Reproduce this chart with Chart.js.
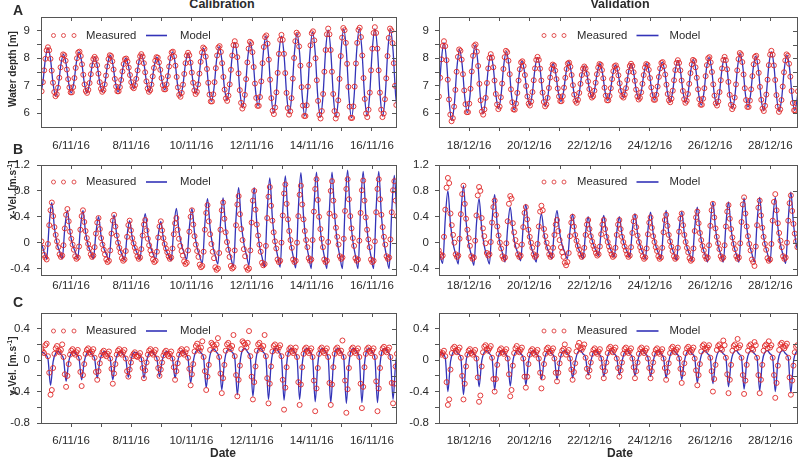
<!DOCTYPE html>
<html>
<head>
<meta charset="utf-8">
<script src="https://cdn.jsdelivr.net/npm/chart.js@4.4.1/dist/chart.umd.min.js"></script>
<style>
  body { margin: 0; width: 803px; height: 464px; background: #fff; position: relative; overflow: hidden;
         font-family: "Liberation Sans", Arial, sans-serif; color: #2b2b2b; }
  canvas { position: absolute; }
  .txt { position: absolute; white-space: nowrap; line-height: 1; }
  .b { font-weight: bold; }
  sup { font-size: 0.7em; line-height: 0; }
</style>
</head>
<body>
<script>
// time axis in hours from 5/11/16 00:00 (calibration) and 17/12/16 00:00 (validation)
const DEPTH_STEP_H = 1.007;   // water depth logger, ~hourly
const VEL_STEP_H = 1.035;     // current meter, ~hourly
const MODEL_STEP_H = 2.07;    // model output

const dayTickHours = [24, 48, 72, 96, 120, 144, 168, 192, 216, 240, 264];
const dateTickHours = [24, 72, 120, 168, 216, 264];
const calDateLabels = ['6/11/16', '8/11/16', '10/11/16', '12/11/16', '14/11/16', '16/11/16'];
const valDateLabels = ['18/12/16', '20/12/16', '22/12/16', '24/12/16', '26/12/16', '28/12/16'];

const depthTicks = [6, 6.5, 7, 7.5, 8, 8.5, 9];
const depthLabels = [6, 7, 8, 9];
const xVelTicks = [-0.4, -0.2, 0, 0.2, 0.4, 0.6, 0.8, 1, 1.2];
const xVelLabels = [-0.4, 0, 0.4, 0.8, 1.2];
const yVelTicks = [-0.8, -0.6, -0.4, -0.2, 0, 0.2, 0.4];
const yVelLabels = [-0.8, -0.4, 0, 0.4];

// water depth [m], calibration
const calDepthMeasured = [
  6.80, 7.13, 7.56, 7.98, 8.29,
  8.40, 8.29, 7.98, 7.55, 7.11, 6.77, 6.62, 6.69, 6.93, 7.29, 7.67, 7.98, 8.14,
  8.11, 7.91, 7.59, 7.24, 6.94, 6.76, 6.76, 6.95, 7.28, 7.65, 8.00, 8.21,
  8.24, 8.08, 7.78, 7.40, 7.05, 6.81, 6.74, 6.85, 7.10, 7.42, 7.74, 7.97,
  8.05, 7.97, 7.75, 7.44, 7.13, 6.89, 6.78, 6.84, 7.05, 7.37, 7.70, 7.97, 8.11,
  8.08, 7.89, 7.59, 7.25, 6.97, 6.80, 6.80, 6.95, 7.21, 7.52, 7.79, 7.97,
  7.99, 7.88, 7.66, 7.39, 7.13, 6.96, 6.91, 7.02, 7.25, 7.56, 7.86, 8.07,
  8.15, 8.06, 7.82, 7.49, 7.16, 6.90, 6.78, 6.84, 7.04, 7.34, 7.65, 7.91, 8.04,
  8.02, 7.85, 7.58, 7.28, 7.02, 6.87, 6.87, 7.05, 7.35, 7.70, 8.01, 8.21,
  8.24, 8.07, 7.73, 7.32, 6.94, 6.67, 6.60, 6.74, 7.04, 7.43, 7.82, 8.10,
  8.20, 8.11, 7.84, 7.48, 7.11, 6.83, 6.70, 6.78, 7.05, 7.44, 7.87, 8.21, 8.39,
  8.34, 8.06, 7.61, 7.11, 6.68, 6.43, 6.43, 6.69, 7.13, 7.64, 8.10, 8.39,
  8.44, 8.23, 7.82, 7.32, 6.86, 6.54, 6.45, 6.64, 7.05, 7.58, 8.10, 8.48,
  8.62, 8.47, 8.04, 7.45, 6.84, 6.38, 6.17, 6.28, 6.67, 7.24, 7.85, 8.35, 8.60,
  8.55, 8.22, 7.68, 7.08, 6.56, 6.27, 6.27, 6.59, 7.16, 7.82, 8.41, 8.77,
  8.83, 8.53, 7.95, 7.22, 6.55, 6.09, 5.97, 6.21, 6.76, 7.47, 8.16, 8.67,
  8.85, 8.67, 8.16, 7.46, 6.74, 6.19, 5.95, 6.07, 6.55, 7.26, 8.01, 8.62, 8.93,
  8.86, 8.43, 7.73, 6.95, 6.28, 5.90, 5.90, 6.29, 6.97, 7.76, 8.47, 8.91,
  8.98, 8.65, 8.00, 7.20, 6.45, 5.94, 5.81, 6.08, 6.70, 7.51, 8.30, 8.87,
  9.08, 8.87, 8.30, 7.51, 6.70, 6.08, 5.81, 5.95, 6.47, 7.25, 8.08, 8.75, 9.10,
  9.02, 8.56, 7.80, 6.96, 6.24, 5.83, 5.83, 6.25, 6.97, 7.81, 8.56, 9.03,
  9.11, 8.77, 8.10, 7.28, 6.52, 5.99, 5.86, 6.13, 6.75, 7.56, 8.35, 8.92,
  9.13, 8.92, 8.35, 7.56, 6.75, 6.13, 5.86, 5.99, 6.51, 7.27, 8.08, 8.74, 9.08,
  9.01, 8.55, 7.82, 7.00, 6.30
];
const calDepthModel = [
  6.65, 7.09, 7.96,
  8.38, 7.96, 7.07, 6.62, 7.00, 7.77,
  8.14, 7.80, 7.09, 6.74, 7.12, 7.87,
  8.23, 7.87, 7.12, 6.74, 7.07, 7.72,
  8.04, 7.73, 7.10, 6.78, 7.12, 7.79,
  8.10, 7.79, 7.12, 6.78, 7.09, 7.70,
  8.00, 7.73, 7.18, 6.91, 7.22, 7.84,
  8.14, 7.81, 7.12, 6.78, 7.10, 7.73,
  8.04, 7.75, 7.15, 6.85, 7.20, 7.90,
  8.23, 7.84, 7.01, 6.62, 7.00, 7.80,
  8.19, 7.83, 7.08, 6.72, 7.13, 7.98,
  8.37, 7.90, 6.90, 6.43, 6.91, 7.94,
  8.42, 7.95, 6.95, 6.48, 6.99, 8.08,
  8.58, 8.01, 6.78, 6.21, 6.78, 8.01,
  8.58, 8.02, 6.83, 6.27, 6.89, 8.20,
  8.80, 8.13, 6.68, 6.01, 6.68, 8.13,
  8.80, 8.12, 6.67, 5.99, 6.69, 8.20,
  8.90, 8.18, 6.63, 5.90, 6.64, 8.21,
  8.95, 8.20, 6.60, 5.86, 6.62, 8.26,
  9.02, 8.26, 6.62, 5.86, 6.63, 8.29,
  9.06, 8.29, 6.62, 5.84, 6.62, 8.29,
  9.07, 8.31, 6.67, 5.90, 6.67, 8.31,
  9.07, 8.31, 6.67, 5.90, 6.66, 8.29,
  9.04, 8.29, 6.66, 5.90
];

// water depth [m], validation
const valDepthMeasured = [
  6.61, 7.29, 7.96, 8.45,
  8.62, 8.44, 7.93, 7.22, 6.50, 5.95, 5.71, 5.82, 6.24, 6.85, 7.51, 8.05, 8.32,
  8.27, 7.95, 7.42, 6.83, 6.33, 6.04, 6.04, 6.35, 6.89, 7.52, 8.09, 8.45,
  8.50, 8.24, 7.72, 7.07, 6.47, 6.06, 5.95, 6.14, 6.56, 7.10, 7.63, 8.01,
  8.15, 8.02, 7.67, 7.19, 6.70, 6.32, 6.15, 6.24, 6.58, 7.08, 7.61, 8.04, 8.27,
  8.22, 7.91, 7.42, 6.87, 6.40, 6.14, 6.13, 6.35, 6.74, 7.19, 7.60, 7.85,
  7.89, 7.72, 7.39, 6.99, 6.61, 6.35, 6.28, 6.43, 6.77, 7.20, 7.63, 7.94,
  8.05, 7.94, 7.62, 7.19, 6.75, 6.41, 6.25, 6.32, 6.56, 6.92, 7.30, 7.61, 7.77,
  7.74, 7.55, 7.24, 6.90, 6.61, 6.44, 6.44, 6.62, 6.93, 7.29, 7.61, 7.81,
  7.84, 7.69, 7.39, 7.02, 6.68, 6.45, 6.38, 6.49, 6.74, 7.07, 7.39, 7.62,
  7.70, 7.63, 7.43, 7.16, 6.88, 6.67, 6.57, 6.62, 6.82, 7.11, 7.42, 7.66, 7.79,
  7.76, 7.57, 7.27, 6.93, 6.64, 6.47, 6.47, 6.63, 6.91, 7.24, 7.53, 7.71,
  7.74, 7.62, 7.38, 7.09, 6.81, 6.62, 6.57, 6.68, 6.91, 7.21, 7.51, 7.72,
  7.80, 7.72, 7.49, 7.18, 6.86, 6.61, 6.50, 6.56, 6.76, 7.07, 7.39, 7.66, 7.79,
  7.76, 7.58, 7.28, 6.94, 6.66, 6.49, 6.49, 6.67, 6.97, 7.32, 7.63, 7.83,
  7.86, 7.71, 7.41, 7.04, 6.70, 6.47, 6.40, 6.53, 6.82, 7.20, 7.57, 7.83,
  7.93, 7.83, 7.56, 7.19, 6.81, 6.51, 6.38, 6.45, 6.70, 7.07, 7.46, 7.78, 7.94,
  7.90, 7.67, 7.29, 6.87, 6.51, 6.31, 6.31, 6.53, 6.91, 7.35, 7.75, 8.00,
  8.04, 7.85, 7.50, 7.05, 6.64, 6.36, 6.28, 6.43, 6.77, 7.20, 7.63, 7.94,
  8.05, 7.93, 7.60, 7.14, 6.67, 6.31, 6.15, 6.24, 6.57, 7.05, 7.56, 7.97, 8.19,
  8.14, 7.86, 7.41, 6.91, 6.48, 6.23, 6.23, 6.46, 6.87, 7.35, 7.78, 8.05,
  8.09, 7.88, 7.47, 6.96, 6.49, 6.17, 6.08, 6.27, 6.68, 7.22, 7.75, 8.13,
  8.27, 8.13, 7.74, 7.21, 6.66, 6.24, 6.05, 6.14, 6.48, 6.97, 7.49, 7.92, 8.14,
  8.09, 7.80, 7.33, 6.81, 6.37, 6.11, 6.11, 6.36, 6.80
];
const valDepthModel = [
  6.54, 7.93,
  8.57, 7.89, 6.43, 5.74, 6.36, 7.68,
  8.31, 7.76, 6.59, 6.02, 6.63, 7.89,
  8.48, 7.88, 6.59, 5.98, 6.50, 7.60,
  8.13, 7.65, 6.65, 6.17, 6.68, 7.75,
  8.25, 7.74, 6.65, 6.12, 6.55, 7.45,
  7.90, 7.50, 6.69, 6.30, 6.72, 7.61,
  8.03, 7.60, 6.70, 6.27, 6.63, 7.40,
  7.80, 7.44, 6.76, 6.43, 6.78, 7.49,
  7.88, 7.48, 6.75, 6.40, 6.71, 7.37,
  7.72, 7.42, 6.85, 6.58, 6.88, 7.49,
  7.80, 7.46, 6.79, 6.47, 6.78, 7.43,
  7.75, 7.46, 6.87, 6.58, 6.88, 7.49,
  7.80, 7.48, 6.83, 6.51, 6.83, 7.48,
  7.80, 7.47, 6.80, 6.48, 6.82, 7.52,
  7.86, 7.50, 6.77, 6.42, 6.78, 7.55,
  7.92, 7.54, 6.77, 6.40, 6.77, 7.56,
  7.95, 7.53, 6.70, 6.30, 6.72, 7.61,
  8.03, 7.61, 6.72, 6.30, 6.72, 7.61,
  8.03, 7.58, 6.63, 6.17, 6.66, 7.69,
  8.17, 7.70, 6.70, 6.22, 6.68, 7.63,
  8.08, 7.60, 6.58, 6.10, 6.63, 7.72,
  8.24, 7.72, 6.60, 6.07, 6.58, 7.63,
  8.12, 7.63, 6.60, 6.10, 6.59, 7.60
];

// x-velocity [m/s], calibration
const calXVelMeasured = [
  0.02, -0.08, -0.19, -0.23, -0.26, -0.02, 0.27, 0.50,
  0.62, 0.41, 0.24, 0.12, 0.02, -0.07, -0.18, -0.22, -0.20, -0.04, 0.22, 0.43,
  0.52, 0.33, 0.17, 0.06, -0.03, -0.11, -0.21, -0.25, -0.23, -0.06, 0.20, 0.41,
  0.50, 0.32, 0.18, 0.07, -0.02, -0.09, -0.18, -0.22, -0.20, -0.07, 0.14, 0.31,
  0.38, 0.21, 0.07, -0.03, -0.11, -0.18, -0.26, -0.30, -0.28, -0.12, 0.14, 0.34,
  0.43, 0.25, 0.11, 0.00, -0.08, -0.15, -0.24, -0.28, -0.26, -0.13, 0.09, 0.27,
  0.34, 0.19, 0.07, -0.01, -0.08, -0.14, -0.21, -0.25, -0.23, -0.10, 0.11, 0.28,
  0.35, 0.19, 0.06, -0.04, -0.12, -0.18, -0.26, -0.30, -0.28, -0.14, 0.08, 0.25,
  0.33, 0.19, 0.07, -0.02, -0.09, -0.15, -0.21, -0.25, -0.23, -0.09, 0.13, 0.30,
  0.38, 0.20, 0.06, -0.05, -0.13, -0.20, -0.29, -0.33, -0.31, -0.12, 0.17, 0.40,
  0.50, 0.28, 0.10, -0.03, -0.13, -0.22, -0.34, -0.38, -0.36, -0.14, 0.20, 0.46,
  0.58, 0.33, 0.13, -0.02, -0.14, -0.24, -0.38, -0.42, -0.40, -0.16, 0.20, 0.50,
  0.62, 0.37, 0.16, 0.01, -0.11, -0.22, -0.36, -0.40, -0.38, -0.12, 0.27, 0.59,
  0.72, 0.44, 0.21, 0.04, -0.10, -0.21, -0.38, -0.42, -0.40, -0.12, 0.31, 0.65,
  0.80, 0.51, 0.28, 0.11, -0.03, -0.14, -0.31, -0.35, -0.33, -0.05, 0.38, 0.71,
  0.86, 0.57, 0.34, 0.16, 0.02, -0.09, -0.26, -0.30, -0.28, 0.00, 0.42, 0.76,
  0.90, 0.60, 0.36, 0.18, 0.04, -0.08, -0.26, -0.30, -0.28, 0.00, 0.41, 0.74,
  0.88, 0.59, 0.36, 0.18, 0.04, -0.07, -0.24, -0.28, -0.26, 0.04, 0.48, 0.83,
  0.98, 0.66, 0.40, 0.21, 0.06, -0.07, -0.26, -0.30, -0.28, 0.01, 0.45, 0.80,
  0.95, 0.65, 0.41, 0.23, 0.09, -0.03, -0.21, -0.25, -0.23, 0.06, 0.49, 0.83,
  0.98, 0.67, 0.41, 0.22, 0.07, -0.05, -0.24, -0.28, -0.26, 0.03, 0.46, 0.81,
  0.96, 0.65, 0.39, 0.20, 0.05, -0.07, -0.26, -0.30, -0.28, 0.02, 0.47, 0.83,
  0.98, 0.67, 0.43, 0.24, 0.09, -0.03, -0.21, -0.25, -0.23, 0.05, 0.47, 0.81,
  0.95, 0.65, 0.41
];
const calXVelModel = [
  -0.01, -0.14, -0.25, 0.29,
  0.62, 0.23, -0.01, -0.14, -0.25, 0.22,
  0.50, 0.17, -0.03, -0.14, -0.24, 0.22,
  0.50, 0.16, -0.04, -0.15, -0.25, 0.15,
  0.40, 0.10, -0.08, -0.18, -0.27, 0.16,
  0.43, 0.12, -0.07, -0.18, -0.27, 0.11,
  0.34, 0.07, -0.08, -0.17, -0.25, 0.18,
  0.45, 0.13, -0.06, -0.17, -0.26, 0.11,
  0.33, 0.06, -0.11, -0.20, -0.28, 0.22,
  0.53, 0.17, -0.04, -0.16, -0.26, 0.23,
  0.53, 0.15, -0.08, -0.21, -0.32, 0.30,
  0.68, 0.23, -0.05, -0.20, -0.33, 0.30,
  0.69, 0.21, -0.07, -0.23, -0.37, 0.39,
  0.85, 0.31, -0.01, -0.19, -0.35, 0.39,
  0.85, 0.30, -0.04, -0.22, -0.38, 0.48,
  1.00, 0.38, 0.01, -0.20, -0.38, 0.49,
  1.03, 0.39, 0.01, -0.21, -0.39, 0.52,
  1.08, 0.41, 0.01, -0.21, -0.40, 0.52,
  1.09, 0.42, 0.02, -0.21, -0.40, 0.52,
  1.09, 0.42, 0.02, -0.21, -0.40, 0.54,
  1.12, 0.44, 0.03, -0.20, -0.40, 0.53,
  1.10, 0.43, 0.02, -0.21, -0.40, 0.53,
  1.10, 0.43, 0.02, -0.21, -0.40, 0.49,
  1.04, 0.39, 0.00
];

// x-velocity [m/s], validation
const valXVelMeasured = [
  -0.12, -0.18, -0.22, -0.20, 0.09, 0.51, 0.85,
  1.00, 0.92, 0.45, 0.27, 0.12, 0.00, -0.18, -0.22, -0.20, 0.06, 0.44, 0.75,
  0.88, 0.60, 0.37, 0.20, 0.07, -0.05, -0.21, -0.25, -0.23, 0.03, 0.42, 0.73,
  0.86, 0.80, 0.38, 0.22, 0.10, -0.01, -0.16, -0.20, -0.18, 0.01, 0.31, 0.55,
  0.65, 0.43, 0.25, 0.11, 0.00, -0.09, -0.21, -0.25, -0.23, -0.01, 0.33, 0.60,
  0.72, 0.68, 0.30, 0.16, 0.04, -0.05, -0.18, -0.22, -0.20, -0.03, 0.24, 0.46,
  0.55, 0.36, 0.20, 0.09, 0.00, -0.08, -0.18, -0.22, -0.20, -0.02, 0.25, 0.48,
  0.57, 0.50, 0.21, 0.10, 0.00, -0.08, -0.18, -0.22, -0.20, -0.08, 0.12, 0.28,
  0.35, 0.18, 0.04, -0.07, -0.15, -0.22, -0.31, -0.35, -0.30, -0.16, 0.10, 0.31,
  0.40, 0.25, 0.12, 0.03, -0.05, -0.11, -0.18, -0.22, -0.20, -0.08, 0.12, 0.28,
  0.35, 0.21, 0.10, 0.02, -0.05, -0.10, -0.16, -0.20, -0.18, -0.06, 0.13, 0.28,
  0.35, 0.21, 0.09, 0.01, -0.06, -0.12, -0.18, -0.22, -0.20, -0.08, 0.12, 0.28,
  0.35, 0.21, 0.09, 0.01, -0.06, -0.12, -0.18, -0.22, -0.20, -0.07, 0.15, 0.33,
  0.40, 0.24, 0.11, 0.01, -0.07, -0.13, -0.21, -0.25, -0.23, -0.09, 0.13, 0.31,
  0.39, 0.23, 0.10, 0.01, -0.07, -0.13, -0.21, -0.25, -0.23, -0.08, 0.16, 0.35,
  0.43, 0.26, 0.12, 0.02, -0.06, -0.13, -0.21, -0.25, -0.23, -0.08, 0.17, 0.37,
  0.45, 0.27, 0.12, 0.01, -0.08, -0.15, -0.24, -0.28, -0.26, -0.09, 0.18, 0.39,
  0.48, 0.30, 0.15, 0.04, -0.05, -0.12, -0.21, -0.25, -0.23, -0.04, 0.26, 0.50,
  0.60, 0.39, 0.22, 0.09, -0.01, -0.10, -0.21, -0.25, -0.23, -0.04, 0.25, 0.48,
  0.58, 0.37, 0.21, 0.08, -0.02, -0.10, -0.21, -0.25, -0.23, -0.01, 0.32, 0.59,
  0.70, 0.45, 0.25, 0.10, -0.02, -0.12, -0.26, -0.30, -0.36, -0.06, 0.27, 0.54,
  0.65, 0.42, 0.23, 0.09, -0.02, -0.11, -0.24, -0.28, -0.26, -0.02, 0.34, 0.63,
  0.75, 0.50, 0.30, 0.15, 0.03, -0.07, -0.21, -0.25, -0.23, 0.00, 0.34, 0.61,
  0.73, 0.49, 0.29, 0.14, 0.02, -0.07
];
const valXVelModel = [
  -0.06, -0.20, -0.32, 0.37,
  0.80, 0.29, -0.01, -0.18, -0.33, 0.42,
  0.88, 0.33, -0.01, -0.19, -0.35, 0.29,
  0.68, 0.23, -0.05, -0.20, -0.33, 0.33,
  0.74, 0.27, -0.01, -0.16, -0.30, 0.23,
  0.55, 0.18, -0.05, -0.17, -0.28, 0.26,
  0.59, 0.19, -0.05, -0.18, -0.30, 0.17,
  0.45, 0.14, -0.05, -0.16, -0.25, 0.22,
  0.50, 0.16, -0.04, -0.15, -0.25, 0.18,
  0.44, 0.13, -0.06, -0.16, -0.25, 0.15,
  0.40, 0.13, -0.03, -0.12, -0.20, 0.18,
  0.42, 0.13, -0.04, -0.14, -0.22, 0.16,
  0.40, 0.12, -0.05, -0.14, -0.22, 0.20,
  0.45, 0.14, -0.05, -0.16, -0.25, 0.20,
  0.47, 0.15, -0.05, -0.16, -0.25, 0.22,
  0.50, 0.15, -0.05, -0.17, -0.27, 0.20,
  0.48, 0.14, -0.07, -0.18, -0.28, 0.23,
  0.55, 0.17, -0.06, -0.19, -0.30, 0.28,
  0.63, 0.21, -0.04, -0.18, -0.30, 0.28,
  0.63, 0.21, -0.04, -0.18, -0.30, 0.31,
  0.69, 0.24, -0.02, -0.17, -0.30, 0.32,
  0.70, 0.25, -0.02, -0.17, -0.30, 0.32,
  0.70, 0.24, -0.03, -0.19, -0.32, 0.36,
  0.78, 0.29, -0.01, -0.18
];

// y-velocity [m/s], calibration
const calYVelMeasured = [
  0.14, 0.11, 0.09, 0.19, 0.21, 0.05, -0.16,
  -0.44, -0.38, -0.10, 0.08, 0.15, 0.18, 0.12, 0.10, 0.13, 0.20, 0.04, -0.18,
  -0.34, -0.20, -0.05, 0.07, 0.12, 0.14, 0.09, 0.07, 0.10, 0.13, 0.03, -0.15,
  -0.33, -0.19, -0.05, 0.08, 0.13, 0.15, 0.10, 0.08, 0.11, 0.14, 0.03, -0.15,
  -0.25, -0.14, -0.04, 0.06, 0.10, 0.12, 0.07, 0.05, 0.08, 0.11, 0.02, -0.11,
  -0.30, -0.17, -0.05, 0.07, 0.12, 0.14, 0.09, 0.07, 0.10, 0.13, 0.02, -0.14,
  -0.21, -0.12, -0.03, 0.05, 0.08, 0.10, 0.05, 0.04, 0.06, 0.09, 0.01, -0.10,
  -0.23, -0.13, -0.03, 0.07, 0.12, 0.14, 0.09, 0.07, 0.10, 0.13, 0.02, -0.10,
  -0.20, -0.12, -0.03, 0.06, 0.10, 0.12, 0.07, 0.05, 0.08, 0.11, 0.02, -0.09,
  -0.25, -0.14, -0.04, 0.07, 0.12, 0.14, 0.09, 0.07, 0.10, 0.14, 0.03, -0.11,
  -0.32, -0.18, -0.05, 0.11, 0.18, 0.21, 0.15, 0.12, 0.16, 0.24, 0.04, -0.14,
  -0.38, -0.21, -0.06, 0.13, 0.22, 0.20, 0.18, 0.14, 0.20, 0.28, 0.04, -0.17,
  -0.42, -0.23, -0.06, 0.12, 0.20, 0.22, 0.16, 0.14, 0.18, 0.32, 0.05, -0.19,
  -0.46, -0.25, -0.07, 0.14, 0.24, 0.22, 0.20, 0.16, 0.22, 0.37, 0.05, -0.21,
  -0.50, -0.28, -0.08, 0.12, 0.20, 0.22, 0.16, 0.14, 0.18, 0.32, 0.05, -0.23,
  -0.55, -0.30, -0.08, 0.11, 0.18, 0.20, 0.15, 0.12, 0.16, 0.19, 0.05, -0.25,
  -0.63, -0.35, -0.09, 0.08, 0.14, 0.16, 0.11, 0.09, 0.12, 0.16, 0.04, -0.28,
  -0.57, -0.31, -0.09, 0.08, 0.14, 0.16, 0.11, 0.09, 0.12, 0.15, 0.04, -0.26,
  -0.65, -0.36, -0.10, 0.08, 0.14, 0.16, 0.11, 0.09, 0.12, 0.15, 0.04, -0.29,
  -0.57, -0.31, -0.09, 0.08, 0.14, 0.16, 0.11, 0.09, 0.12, 0.25, 0.04, -0.26,
  -0.67, -0.37, -0.10, 0.08, 0.14, 0.16, 0.11, 0.09, 0.12, 0.15, 0.04, -0.30,
  -0.61, -0.34, -0.09, 0.08, 0.14, 0.16, 0.11, 0.09, 0.12, 0.15, 0.04, -0.27,
  -0.65, -0.36, -0.10, 0.09, 0.15, 0.17, 0.12, 0.10, 0.13, 0.16, 0.04, -0.29,
  -0.55, -0.30, -0.08, 0.08
];
const calYVelModel = [
  0.09, 0.10, 0.07, 0.02,
  -0.32, -0.02, 0.09, 0.11, 0.07, 0.02,
  -0.27, -0.02, 0.09, 0.11, 0.07, 0.02,
  -0.25, -0.02, 0.09, 0.11, 0.07, 0.02,
  -0.23, -0.01, 0.09, 0.11, 0.07, 0.02,
  -0.25, -0.02, 0.09, 0.11, 0.07, 0.02,
  -0.22, -0.01, 0.09, 0.10, 0.07, 0.02,
  -0.23, -0.02, 0.09, 0.11, 0.07, 0.02,
  -0.21, -0.01, 0.09, 0.11, 0.07, 0.02,
  -0.23, -0.02, 0.10, 0.12, 0.08, 0.02,
  -0.29, -0.02, 0.11, 0.13, 0.09, 0.03,
  -0.35, -0.03, 0.12, 0.14, 0.10, 0.03,
  -0.38, -0.03, 0.12, 0.14, 0.10, 0.03,
  -0.44, -0.04, 0.13, 0.15, 0.10, 0.03,
  -0.46, -0.04, 0.13, 0.15, 0.10, 0.03,
  -0.50, -0.05, 0.13, 0.15, 0.10, 0.03,
  -0.51, -0.05, 0.13, 0.15, 0.10, 0.03,
  -0.50, -0.05, 0.13, 0.15, 0.10, 0.03,
  -0.53, -0.05, 0.13, 0.15, 0.10, 0.03,
  -0.54, -0.05, 0.13, 0.15, 0.10, 0.03,
  -0.55, -0.05, 0.13, 0.15, 0.10, 0.03,
  -0.54, -0.05, 0.13, 0.15, 0.10, 0.03,
  -0.54, -0.05, 0.13, 0.15, 0.10, 0.03,
  -0.50, -0.04, 0.12
];

// y-velocity [m/s], validation
const valYVelMeasured = [
  0.08, 0.10, 0.07, 0.09, 0.12, 0.05, -0.28,
  -0.57, -0.50, -0.12, 0.09, 0.15, 0.17, 0.12, 0.10, 0.13, 0.16, 0.03, -0.20,
  -0.50, -0.30, -0.08, 0.07, 0.12, 0.14, 0.09, 0.07, 0.10, 0.13, 0.02, -0.22,
  -0.53, -0.45, -0.08, 0.10, 0.17, 0.19, 0.14, 0.12, 0.15, 0.18, 0.03, -0.24,
  -0.40, -0.24, -0.06, 0.08, 0.13, 0.15, 0.10, 0.08, 0.11, 0.14, 0.02, -0.18,
  -0.46, -0.38, -0.07, 0.09, 0.15, 0.18, 0.12, 0.10, 0.13, 0.16, 0.02, -0.21,
  -0.35, -0.21, -0.05, 0.07, 0.12, 0.14, 0.09, 0.07, 0.10, 0.13, 0.02, -0.16,
  -0.36, -0.22, -0.05, 0.08, 0.14, 0.16, 0.11, 0.09, 0.12, 0.15, 0.02, -0.16,
  -0.27, -0.16, -0.04, 0.07, 0.12, 0.14, 0.20, 0.07, 0.10, 0.13, 0.02, -0.12,
  -0.25, -0.15, -0.04, 0.11, 0.18, 0.22, 0.15, 0.13, 0.16, 0.20, 0.03, -0.11,
  -0.21, -0.13, -0.03, 0.08, 0.13, 0.15, 0.10, 0.08, 0.11, 0.14, 0.02, -0.09,
  -0.23, -0.14, -0.03, 0.09, 0.15, 0.17, 0.12, 0.10, 0.13, 0.16, 0.02, -0.10,
  -0.21, -0.13, -0.03, 0.08, 0.14, 0.16, 0.11, 0.09, 0.12, 0.15, 0.02, -0.09,
  -0.23, -0.14, -0.03, 0.08, 0.14, 0.16, 0.11, 0.09, 0.12, 0.15, 0.02, -0.10,
  -0.23, -0.14, -0.03, 0.08, 0.13, 0.15, 0.10, 0.08, 0.11, 0.14, 0.02, -0.10,
  -0.25, -0.15, -0.04, 0.09, 0.15, 0.17, 0.12, 0.10, 0.13, 0.16, 0.02, -0.11,
  -0.29, -0.17, -0.04, 0.09, 0.15, 0.17, 0.12, 0.10, 0.13, 0.16, 0.02, -0.13,
  -0.32, -0.19, -0.05, 0.11, 0.18, 0.20, 0.15, 0.13, 0.16, 0.19, 0.03, -0.14,
  -0.40, -0.24, -0.06, 0.13, 0.18, 0.20, 0.15, 0.13, 0.25, 0.19, 0.03, -0.18,
  -0.42, -0.25, -0.06, 0.12, 0.18, 0.20, 0.15, 0.27, 0.16, 0.19, 0.03, -0.19,
  -0.43, -0.26, -0.06, 0.12, 0.18, 0.20, 0.15, 0.13, 0.23, 0.19, 0.03, -0.19,
  -0.42, -0.25, -0.06, 0.12, 0.18, 0.20, 0.15, 0.24, 0.16, 0.19, 0.03, -0.19,
  -0.48, -0.29, -0.07, 0.13, 0.20, 0.22, 0.17, 0.15, 0.18, 0.21, 0.03, -0.22,
  -0.44, -0.26, -0.07, 0.10, 0.17, 0.19
];
const valYVelModel = [
  0.10, 0.10, 0.08, 0.03,
  -0.40, -0.02, 0.10, 0.12, 0.08, 0.03,
  -0.44, -0.02, 0.10, 0.12, 0.08, 0.03,
  -0.34, -0.02, 0.10, 0.12, 0.08, 0.03,
  -0.38, -0.02, 0.10, 0.12, 0.08, 0.03,
  -0.33, -0.02, 0.10, 0.12, 0.08, 0.03,
  -0.32, -0.02, 0.10, 0.12, 0.08, 0.03,
  -0.25, -0.02, 0.10, 0.12, 0.08, 0.03,
  -0.25, -0.02, 0.10, 0.12, 0.08, 0.03,
  -0.23, -0.02, 0.10, 0.12, 0.08, 0.03,
  -0.19, -0.02, 0.10, 0.12, 0.08, 0.03,
  -0.21, -0.02, 0.10, 0.12, 0.08, 0.03,
  -0.19, -0.02, 0.10, 0.12, 0.08, 0.03,
  -0.20, -0.02, 0.10, 0.12, 0.08, 0.03,
  -0.21, -0.02, 0.10, 0.12, 0.08, 0.03,
  -0.23, -0.02, 0.10, 0.12, 0.08, 0.03,
  -0.25, -0.02, 0.10, 0.12, 0.08, 0.03,
  -0.29, -0.02, 0.10, 0.12, 0.08, 0.03,
  -0.30, -0.02, 0.10, 0.12, 0.08, 0.03,
  -0.34, -0.02, 0.10, 0.12, 0.08, 0.03,
  -0.37, -0.02, 0.10, 0.12, 0.08, 0.03,
  -0.39, -0.02, 0.10, 0.12, 0.08, 0.03,
  -0.40, -0.02, 0.10, 0.12, 0.08, 0.03,
  -0.42, -0.02, 0.10, 0.12
];

const FONT = '"Liberation Sans", Arial, sans-serif';
Chart.defaults.font.family = FONT;
Chart.defaults.font.size = 11.5;
Chart.defaults.color = '#2b2b2b';

const FRAME = '#555';
const MEAS_COLOR = 'rgba(224, 40, 40, 0.9)';
const MODEL_COLOR = '#3333b8';

// frame on all four sides, inward ticks on top and right, legend inside the plot
const framePlugin = {
  id: 'frame',
  afterDraw(chart, args, opts) {
    const { ctx, chartArea: a, scales } = chart;
    ctx.save();
    ctx.strokeStyle = FRAME;
    ctx.lineWidth = 1;
    ctx.strokeRect(Math.round(a.left) + 0.5, Math.round(a.top) + 0.5,
                   Math.round(a.right - a.left) - 1, Math.round(a.bottom - a.top));
    ctx.beginPath();
    scales.x.ticks.forEach(t => {
      const px = Math.round(scales.x.getPixelForValue(t.value)) + 0.5;
      ctx.moveTo(px, a.top);
      ctx.lineTo(px, a.top + 4);
    });
    scales.y.ticks.forEach(t => {
      const py = Math.round(scales.y.getPixelForValue(t.value)) + 0.5;
      ctx.moveTo(a.right - 1, py);
      ctx.lineTo(a.right - 5, py);
    });
    ctx.stroke();

    // legend: offsets are measured from the chart area's top-left corner
    const lg = opts.legend;
    const ly = a.top + lg.dy;
    ctx.strokeStyle = '#e05252';
    lg.circles.forEach(dx => {
      ctx.beginPath();
      ctx.arc(a.left + dx, ly, 2, 0, Math.PI * 2);
      ctx.stroke();
    });
    ctx.strokeStyle = MODEL_COLOR;
    ctx.lineWidth = 1.6;
    ctx.beginPath();
    ctx.moveTo(a.left + lg.line[0], ly);
    ctx.lineTo(a.left + lg.line[1], ly);
    ctx.stroke();
    ctx.fillStyle = '#2b2b2b';
    ctx.font = '11.3px ' + FONT;
    ctx.textBaseline = 'middle';
    ctx.fillText('Measured', a.left + lg.text, ly);
    ctx.fillText('Model', a.left + lg.model, ly);
    ctx.restore();
  }
};

function toPoints(values, firstH, stepH) {
  return values.map((v, i) => ({ x: firstH + i * stepH, y: v }));
}

const CANVAS_H = 145;

function makePanel(p) {
  const canvas = document.createElement('canvas');
  canvas.width = p.width;
  canvas.height = CANVAS_H;
  canvas.style.left = p.left + 'px';
  canvas.style.top = p.top + 'px';
  document.body.appendChild(canvas);

  new Chart(canvas.getContext('2d'), {
    type: 'line',
    data: {
      datasets: [
        {
          label: 'Measured',
          data: toPoints(p.measured, p.measFirstH, p.measStepH),
          showLine: false,
          pointStyle: 'circle',
          pointRadius: 2.5,
          pointBorderWidth: 1,
          pointBorderColor: MEAS_COLOR,
          pointBackgroundColor: 'rgba(255, 255, 255, 0)',
          order: 1
        },
        {
          label: 'Model',
          data: toPoints(p.model, p.modelFirstH, MODEL_STEP_H),
          borderColor: MODEL_COLOR,
          borderWidth: 1.3,
          pointRadius: 0,
          cubicInterpolationMode: 'monotone',
          fill: false,
          order: 2
        }
      ]
    },
    options: {
      responsive: false,
      animation: false,
      devicePixelRatio: 1,
      events: [],
      layout: { padding: { left: 0, right: 3, top: 2, bottom: 0 } },
      plugins: {
        legend: { display: false },
        tooltip: { enabled: false },
        frame: { legend: p.legend }
      },
      scales: {
        x: {
          type: 'linear',
          min: 0,
          max: p.xMax,
          afterBuildTicks: s => { s.ticks = dayTickHours.map(v => ({ value: v })); },
          // fixed axis size, no extra label padding so every panel has the same plot box
          afterFit: s => { s.height = 30; s.paddingLeft = 0; s.paddingRight = 0; },
          ticks: {
            autoSkip: false,
            maxRotation: 0,
            padding: p.xPad,
            callback: v => {
              const i = dateTickHours.indexOf(v);
              return i >= 0 ? p.dateLabels[i] : '';
            }
          },
          grid: { drawOnChartArea: false, tickLength: 4, color: FRAME },
          border: { display: false }
        },
        y: {
          min: p.yMin,
          max: p.yMax,
          afterBuildTicks: s => { s.ticks = p.yTicks.map(v => ({ value: v })); },
          afterFit: s => { s.width = 41; s.paddingTop = 0; s.paddingBottom = 0; },
          ticks: {
            padding: p.yPad,
            callback: v => (p.yLabels.includes(v) ? String(v) : '')
          },
          grid: { drawOnChartArea: false, tickLength: 4, color: FRAME },
          border: { display: false }
        }
      }
    },
    plugins: [framePlugin]
  });
}

const LEFT_LEGEND = { circles: [12.5, 22.5, 33], text: 45, line: [105, 126], model: 139 };
const RIGHT_LEGEND = { circles: [105, 115, 125], text: 138, line: [197.5, 219.5], model: 230.5 };

const LEFT_COL = { left: 0, width: 402, xMax: 284, dateLabels: calDateLabels, yPad: 7, legendBase: LEFT_LEGEND };
const RIGHT_COL = { left: 398, width: 405, xMax: 286, dateLabels: valDateLabels, yPad: 6, legendBase: RIGHT_LEGEND };
const ROW_A = { top: 12, yMin: 5.5, yMax: 9.5, yTicks: depthTicks, yLabels: depthLabels, xPad: 8, legendDy: 18.5 };
const ROW_B = { top: 160, yMin: -0.5, yMax: 1.2, yTicks: xVelTicks, yLabels: xVelLabels, xPad: 0, legendDy: 17 };
const ROW_C = { top: 308, yMin: -0.8, yMax: 0.6, yTicks: yVelTicks, yLabels: yVelLabels, xPad: 7, legendDy: 18 };

function panel(col, row, extra) {
  return { ...col, ...row, ...extra, legend: { ...col.legendBase, dy: row.legendDy } };
}

makePanel(panel(LEFT_COL, ROW_A, { measured: calDepthMeasured, measFirstH: 0.495, measStepH: DEPTH_STEP_H,
                                   model: calDepthModel, modelFirstH: -0.68 }));
makePanel(panel(RIGHT_COL, ROW_A, { measured: valDepthMeasured, measFirstH: -0.058, measStepH: DEPTH_STEP_H,
                                    model: valDepthModel, modelFirstH: -0.17 }));
makePanel(panel(LEFT_COL, ROW_B, { measured: calXVelMeasured, measFirstH: 0.355, measStepH: VEL_STEP_H,
                                   model: calXVelModel, modelFirstH: 0.355 }));
makePanel(panel(RIGHT_COL, ROW_B, { measured: valXVelMeasured, measFirstH: -0.17, measStepH: VEL_STEP_H,
                                    model: valXVelModel, modelFirstH: -1.205 }));
makePanel(panel(LEFT_COL, ROW_C, { measured: calYVelMeasured, measFirstH: 0.355, measStepH: VEL_STEP_H,
                                   model: calYVelModel, modelFirstH: -0.68 }));
makePanel(panel(RIGHT_COL, ROW_C, { measured: valYVelMeasured, measFirstH: -0.17, measStepH: VEL_STEP_H,
                                    model: valYVelModel, modelFirstH: -1.205 }));

// text overlays
function addText(html, x, cy, size, opts = {}) {
  const el = document.createElement('div');
  el.className = 'txt' + (opts.bold ? ' b' : '');
  el.innerHTML = html;
  el.style.fontSize = size + 'px';
  el.style.left = Math.round(x) + 'px';
  el.style.top = Math.round(cy - size * 0.49) + 'px';
  if (opts.center) el.style.transform = 'translateX(-50%)';
  document.body.appendChild(el);
}

function addRotated(html, cx, cy, size) {
  const el = document.createElement('div');
  el.className = 'txt b';
  el.innerHTML = html;
  el.style.fontSize = size + 'px';
  el.style.left = cx + 'px';
  el.style.top = cy + 'px';
  el.style.transform = 'translate(-50%, -50%) rotate(-90deg)';
  document.body.appendChild(el);
}

addText('Calibration', 222, 4.2, 12.5, { bold: true, center: true });
addText('Validation', 620, 4.2, 12.5, { bold: true, center: true });
addText('A', 12.5, 9.5, 14, { bold: true });
addText('B', 12.5, 148.5, 14, { bold: true });
addText('C', 13, 301.8, 14, { bold: true });
addText('Date', 222.7, 453.3, 12, { bold: true, center: true });
addText('Date', 620, 453.3, 12, { bold: true, center: true });

addRotated('Water depth [m]', 12.5, 69, 10);
addRotated('x-Vel. [m.s<sup>-1</sup>]', 12.5, 190, 10);
addRotated('y-Vel. [m.s<sup>-1</sup>]', 12.5, 366, 10);
</script>
</body>
</html>
